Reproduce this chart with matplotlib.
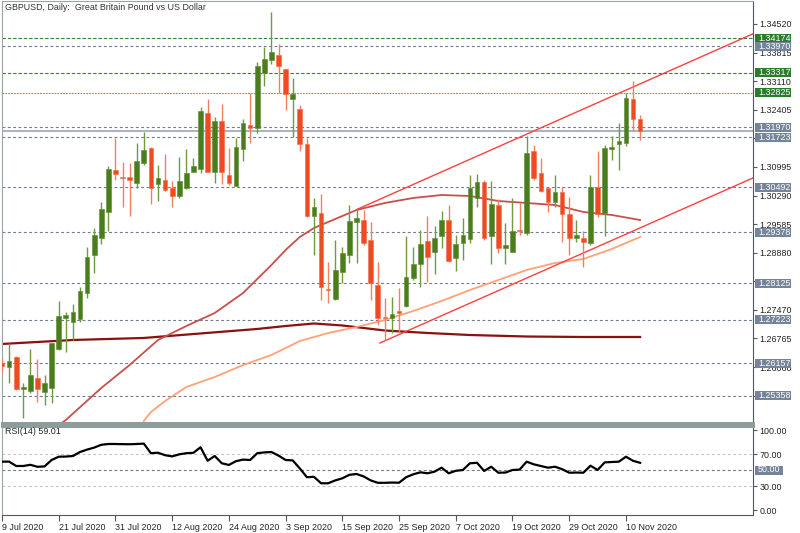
import matplotlib
matplotlib.use("Agg")
import matplotlib.pyplot as plt
from matplotlib.patches import Rectangle
import numpy as np

plt.rcParams['font.family'] = ['Liberation Sans', 'DejaVu Sans']

# GBPUSD daily bars, 9 Jul 2020 .. 12 Nov 2020 (bar index 0..90)
opens = [1.26160, 1.26054, 1.26315, 1.25519, 1.25469, 1.25783, 1.25437, 1.25536, 1.26505, 1.27277,
         1.27178, 1.27237, 1.27893, 1.28823, 1.29235, 1.29876, 1.30919, 1.30747, 1.30740, 1.30599,
         1.31092, 1.31469, 1.30574, 1.30673, 1.30483, 1.30286, 1.30468, 1.30877, 1.30937, 1.32318,
         1.30863, 1.32128, 1.30796, 1.30532, 1.31437, 1.32029, 1.31948, 1.33304, 1.33632, 1.33756,
         1.33403, 1.32663, 1.32424, 1.31553, 1.29792, 1.29852, 1.27992, 1.27738, 1.28411, 1.28823,
         1.29630, 1.29686, 1.29193, 1.28083, 1.27302, 1.27262, 1.27442, 1.27573, 1.28263, 1.28601,
         1.29176, 1.28890, 1.29299, 1.29686, 1.28757, 1.29127, 1.29210, 1.30222, 1.30631, 1.29292,
         1.30056, 1.28989, 1.28905, 1.29427, 1.29358, 1.31383, 1.30853, 1.30468, 1.30138, 1.30385,
         1.29827, 1.29250, 1.29250, 1.29112, 1.30508, 1.29852, 1.31430, 1.31553, 1.31593, 1.32670,
         1.32177]
highs = [1.26283, 1.26646, 1.26332, 1.25659, 1.26505, 1.26251, 1.25864, 1.26660, 1.27689, 1.27425,
         1.27615, 1.28041, 1.29028, 1.29496, 1.30138, 1.31026, 1.31701, 1.31109, 1.31099, 1.31593,
         1.31849, 1.31494, 1.31043, 1.31307, 1.30648, 1.31233, 1.31430, 1.31208, 1.32481, 1.32663,
         1.32234, 1.32540, 1.31469, 1.31701, 1.32177, 1.32826, 1.33576, 1.33945, 1.34809, 1.34019,
         1.33410, 1.33181, 1.32523, 1.31701, 1.30222, 1.30320, 1.28643, 1.29193, 1.29028, 1.30056,
         1.29975, 1.29933, 1.29630, 1.28643, 1.27770, 1.27795, 1.28017, 1.29292, 1.29028, 1.29440,
         1.29785, 1.29538, 1.29908, 1.30056, 1.29317, 1.29728, 1.30796, 1.30821, 1.30673, 1.30648,
         1.30197, 1.29620, 1.30222, 1.30106, 1.31751, 1.31536, 1.31208, 1.30476, 1.30796, 1.30508,
         1.30246, 1.29686, 1.29423, 1.30796, 1.31395, 1.31536, 1.31758, 1.32071, 1.32811, 1.33114,
         1.32276]
lows = [1.25938, 1.25659, 1.25494, 1.24796, 1.25413, 1.25205, 1.25124, 1.25181, 1.26490, 1.26424,
        1.26727, 1.27178, 1.27770, 1.28372, 1.29087, 1.29415, 1.30673, 1.30014, 1.29785, 1.30483,
        1.31043, 1.30074, 1.30155, 1.30402, 1.30014, 1.30236, 1.30460, 1.30870, 1.30853, 1.30870,
        1.30591, 1.30567, 1.30550, 1.30525, 1.31141, 1.31593, 1.31839, 1.32998, 1.33526, 1.32811,
        1.32399, 1.31726, 1.31388, 1.29768, 1.28823, 1.27713, 1.27632, 1.27713, 1.28125, 1.28618,
        1.28618, 1.29070, 1.27713, 1.27097, 1.26727, 1.26892, 1.26892, 1.27548, 1.28207, 1.28041,
        1.28165, 1.28347, 1.28989, 1.28658, 1.28436, 1.28700, 1.29112, 1.30014, 1.29193, 1.28601,
        1.28880, 1.28601, 1.28900, 1.29317, 1.29304, 1.30673, 1.30385, 1.29891, 1.30014, 1.29151,
        1.28823, 1.29151, 1.28535, 1.29070, 1.29768, 1.29292, 1.31166, 1.30919, 1.31511, 1.31889,
        1.31659]
closes = [1.26086, 1.26216, 1.25519, 1.25556, 1.25864, 1.25519, 1.25659, 1.26646, 1.27319, 1.27344,
          1.27410, 1.27935, 1.28781, 1.29317, 1.29950, 1.30944, 1.30813, 1.30732, 1.30673, 1.31141,
          1.31405, 1.30468, 1.30715, 1.30426, 1.30286, 1.30656, 1.30838, 1.31018, 1.32375, 1.30877,
          1.32128, 1.30863, 1.30591, 1.31494, 1.32071, 1.31963, 1.33492, 1.33657, 1.33822, 1.33492,
          1.32786, 1.32786, 1.31553, 1.29785, 1.29999, 1.28041, 1.27960, 1.28453, 1.28865, 1.29662,
          1.29728, 1.29127, 1.28140, 1.27262, 1.27269, 1.27361, 1.27400, 1.28288, 1.28601, 1.29094,
          1.28781, 1.29235, 1.29686, 1.28675, 1.29094, 1.29317, 1.30468, 1.30631, 1.29235, 1.30074,
          1.28989, 1.29070, 1.29415, 1.29403, 1.31339, 1.30722, 1.30402, 1.30138, 1.30385, 1.29827,
          1.29235, 1.29317, 1.29151, 1.30508, 1.29834, 1.31455, 1.31494, 1.31635, 1.32703, 1.32177,
          1.31880]

# moving averages read at sample bars
sma50_idx = [8, 9, 14, 18, 22, 26, 30, 34, 38, 40, 42, 44, 46, 50, 54, 58, 62, 66, 70, 74, 78, 82, 86, 90]
sma50 = [1.24631, 1.24754, 1.25543, 1.26110, 1.26727, 1.27072, 1.27393, 1.27886, 1.28577, 1.28947,
         1.29267, 1.29489, 1.29637, 1.29933, 1.30106, 1.30229, 1.30303, 1.30278, 1.30155, 1.30106,
         1.30056, 1.29884, 1.29810, 1.29686]
sma100_idx = [20, 21, 23, 26, 30, 34, 38, 42, 46, 50, 54, 58, 62, 66, 70, 74, 78, 82, 86, 90]
sma100 = [1.24729, 1.24951, 1.25222, 1.25568, 1.25814, 1.26110, 1.26357, 1.26702, 1.26899, 1.27047,
          1.27220, 1.27442, 1.27689, 1.27960, 1.28207, 1.28453, 1.28626, 1.28725, 1.28971, 1.29267]
sma200_idx = [-1, 0, 10, 20, 28, 36, 40, 44, 48, 54, 60, 66, 74, 82, 90]
sma200 = [1.26616, 1.26629, 1.26727, 1.26777, 1.26888, 1.26999, 1.27072, 1.27134, 1.27085, 1.26961,
          1.26900, 1.26850, 1.26813, 1.26801, 1.26801]

rsi = [60.4, 60.5, 55.0, 55.0, 56.5, 54.0, 54.5, 62.5, 66.6, 66.8,
       67.5, 72.5, 75.5, 78.0, 81.5, 82.5, 82.5, 82.3, 82.2, 82.5,
       83.0, 71.0, 71.6, 68.5, 67.0, 69.6, 71.0, 71.5, 78.4, 61.6,
       67.5, 58.4, 56.3, 61.0, 63.0, 62.5, 71.0, 72.0, 72.5, 68.0,
       62.5, 62.0, 52.0, 41.0, 41.5, 33.4, 33.4, 37.0, 39.6, 44.0,
       45.0, 42.0, 37.0, 34.0, 34.0, 34.3, 34.1, 41.0, 44.6, 47.1,
       45.9, 47.9, 52.9, 45.9, 49.0, 50.0, 58.4, 59.0, 48.8, 54.1,
       46.6, 46.8, 50.0, 50.5, 60.4, 57.1, 55.0, 52.9, 54.1, 51.0,
       46.6, 46.8, 46.6, 55.4, 50.0, 59.5, 60.0, 60.4, 66.6, 61.5,
       59.0]

# trend channel anchors (bar index, price)
upper_chan = [(50.2, 1.29958), (89.0, 1.32966)]
lower_chan = [(53.3, 1.26653), (105.9, 1.30722)]

green_levels = [1.34174, 1.33317]
light_green_levels = [1.32825]
grey_levels = [1.33970, 1.31970, 1.31723, 1.30492, 1.29378, 1.28125, 1.27223, 1.26157, 1.25358]
price_ticks = [1.25355, 1.26060, 1.26765, 1.27470, 1.28175, 1.28880, 1.29585,
               1.30290, 1.30995, 1.31700, 1.32405, 1.33110, 1.33815, 1.34520]
hidden_ticks = [1.25355, 1.28175, 1.31700]   # fully covered by level labels
date_ticks = [0, 8, 16, 24, 32, 40, 48, 56, 64, 72, 80, 88]
date_labels = ['9 Jul 2020', '21 Jul 2020', '31 Jul 2020', '12 Aug 2020', '24 Aug 2020', '3 Sep 2020',
               '15 Sep 2020', '25 Sep 2020', '7 Oct 2020', '19 Oct 2020', '29 Oct 2020', '10 Nov 2020']

FS = 6.4
W, H = 800, 533
AXW = 751
fig = plt.figure(figsize=(8, 5.33), dpi=100)
ax = fig.add_axes([2 / W, 1 - 423 / H, AXW / W, 422 / H])
rx = fig.add_axes([2 / W, 1 - 515 / H, AXW / W, 89 / H], sharex=ax)

o = np.array(opens); c = np.array(closes)
hi = np.array(highs); lo = np.array(lows)
idx = np.arange(len(o))
up = c >= o

# levels
for lv in green_levels:
    ax.axhline(lv, color='#2f7f2f', lw=0.8, ls=(0, (3, 1.8)), zorder=1)
for lv in light_green_levels:
    ax.axhline(lv, color='#62a862', lw=0.8, ls=(0, (1.6, 1.0)), zorder=1)
for lv in grey_levels:
    ax.axhline(lv, color='#6e7c94', lw=0.8, ls=(0, (2.6, 2.2)), zorder=1)
ax.axhline(closes[-1], color='#a9b5c5', lw=1.5, zorder=1)

# moving averages
ax.plot(sma200_idx, sma200, color='#8b1010', lw=1.6, zorder=2)
ax.plot(sma50_idx, sma50, color='#c8504c', lw=1.3, zorder=2)
ax.plot(sma100_idx, sma100, color='#ffa276', lw=1.3, zorder=2)

# candles
ax.vlines(idx[up], lo[up], hi[up], color='#6f9a3e', lw=1.0, zorder=3)
ax.vlines(idx[~up], lo[~up], hi[~up], color='#f2805e', lw=1.0, zorder=3)
body = np.maximum(np.abs(c - o), 0.00025)
ax.bar(idx[up], body[up], bottom=np.minimum(o, c)[up], width=0.66,
       color='#4a7d1c', edgecolor='#5d8a30', lw=0.4, zorder=4)
ax.bar(idx[~up], body[~up], bottom=np.minimum(o, c)[~up], width=0.66,
       color='#f04a22', edgecolor='#f06a48', lw=0.4, zorder=4)

x_right = 105.92
for (x0, y0), (x1, y1) in (upper_chan, lower_chan):
    slope = (y1 - y0) / (x1 - x0)
    ax.plot([x0, x_right], [y0, y0 + slope * (x_right - x0)], color='#ff3f3f', lw=1.0, zorder=2)

ax.set_xlim(0, x_right)
ax.set_ylim(1.24680, 1.35087)
ax.yaxis.tick_right()
ax.set_yticks(price_ticks)
ax.set_yticklabels(['' if t in hidden_ticks else f'{t:.5f}' for t in price_ticks])
ax.tick_params(axis='y', direction='out', length=3, pad=1.5, labelsize=FS,
               colors='#505860', labelcolor='#222222', width=0.8)
ax.tick_params(axis='x', bottom=False, labelbottom=False)


def level_label(a, val, text, fc, half_h):
    tr = a.get_yaxis_transform()
    a.add_patch(Rectangle((1 + 2.5 / AXW, val - half_h), 36 / AXW, 2 * half_h, transform=tr,
                          fc=fc, ec='none', clip_on=False, zorder=6))
    a.text(1 + 5 / AXW, val, text, transform=tr, ha='left', va='center', fontsize=FS,
           color='white', clip_on=False, zorder=7)


ppx = (1.35087 - 1.24680) / 422   # price per pixel
for lv in green_levels + light_green_levels:
    level_label(ax, lv, f'{lv:.5f}', '#2a7d2a', 4.5 * ppx)
for lv in grey_levels:
    level_label(ax, lv, f'{lv:.5f}', '#76849a', 4.5 * ppx)

for s in ('left', 'top'):
    ax.spines[s].set_color('#9aa4a4')
    ax.spines[s].set_linewidth(0.8)
ax.spines['right'].set_color('#505860')
ax.spines['bottom'].set_color('#8e9c9c')
ax.spines['bottom'].set_linewidth(2.2)

fig.text(5 / W, 1 - 8 / H, 'GBPUSD, Daily:  Great Britain Pound vs US Dollar',
         fontsize=FS, color='#333333', va='center', ha='left')

# RSI panel
rx.plot(idx, rsi, color='black', lw=1.6, zorder=3)
rx.axhline(70, color='#c4c4c4', lw=0.8, ls=(0, (2.6, 2.2)))
rx.axhline(30, color='#c4c4c4', lw=0.8, ls=(0, (2.6, 2.2)))
rx.axhline(50, color='#6e7c94', lw=0.8, ls=(0, (2.6, 2.2)))
rx.set_ylim(-6.25, 105)
rx.yaxis.tick_right()
rx.set_yticks([0, 30, 70, 100])
rx.set_yticklabels(['0.00', '30.00', '70.00', '100.00'])
rx.tick_params(axis='y', direction='out', length=3, pad=1.5, labelsize=FS,
               colors='#505860', labelcolor='#222222', width=0.8)
level_label(rx, 50, '50.00', '#76849a', 4.5 / 0.8)
rx.patches[-1].set_width(28 / AXW)
rx.set_xticks(date_ticks)
rx.set_xticklabels(date_labels, ha='left')
rx.tick_params(axis='x', direction='out', length=4, pad=1.5, labelsize=FS,
               colors='#505860', labelcolor='#222222', width=0.8)
rx.text(3 / AXW, 0.935, 'RSI(14) 59.01', transform=rx.transAxes, fontsize=FS,
        color='#222222', va='center', ha='left')
rx.spines['left'].set_color('#9aa4a4')
rx.spines['top'].set_color('#8e9c9c')
rx.spines['top'].set_linewidth(2.2)
rx.spines['right'].set_color('#505860')
rx.spines['bottom'].set_color('#505860')

fig.savefig('out.png', dpi=100)
